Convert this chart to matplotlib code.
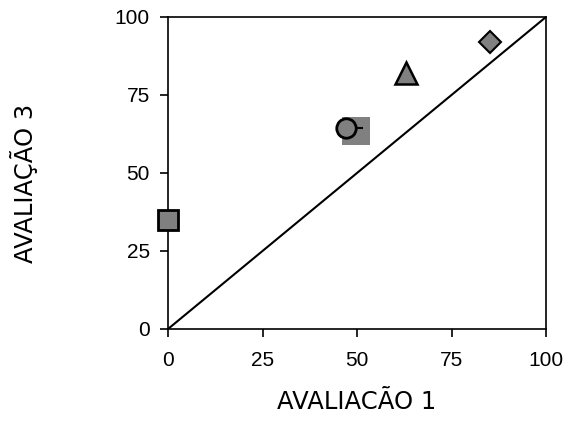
import matplotlib
matplotlib.use("Agg")
import matplotlib.pyplot as plt

# data
sq_x, sq_y = [0], [35]
gsq_x, gsq_y = [49.7], [63.6]
circ_x, circ_y = [47.1], [64.4]
circ_xerr_plus = [4.5]
tri_x, tri_y = [63], [82]
dia_x, dia_y = [85.2], [92]
diag = [0, 100]
ticks = [0, 25, 50, 75, 100]

fig = plt.figure(figsize=(5.68, 4.21), dpi=100)
ax = fig.add_axes([168/568, 92/421, 378/568, 312/421])
ax.plot(diag, diag, color='black', lw=1.5, zorder=2)

gray = '#808080'
ax.plot(sq_x, sq_y, 's', ms=15, mfc=gray, mec='black', mew=2, zorder=5, clip_on=False)
ax.plot(gsq_x, gsq_y, 's', ms=20, mfc=gray, mec=gray, mew=0, zorder=3)
ax.errorbar(circ_x, circ_y, xerr=[[0], circ_xerr_plus], fmt='none', ecolor='black', elinewidth=1.5, capsize=0, zorder=4)
ax.plot(circ_x, circ_y, 'o', ms=14, mfc=gray, mec='black', mew=2, zorder=5)
ax.plot(tri_x, tri_y, '^', ms=16, mfc=gray, mec='black', mew=1.8, zorder=5)
ax.plot(dia_x, dia_y, 'D', ms=11, mfc=gray, mec='black', mew=1.5, zorder=5)

ax.set_xlim(0, 100)
ax.set_ylim(0, 100)
ax.set_xticks(ticks)
ax.set_yticks(ticks)
for s in ax.spines.values():
    s.set_linewidth(1.2)
ax.tick_params(direction='out', length=6, width=1.2, labelsize=15, pad=7)
ax.tick_params(axis='x', pad=10)
for lbl in ax.get_xticklabels() + ax.get_yticklabels():
    lbl.set_family('Liberation Sans')
ax.set_xlabel('AVALIACÃO 1', fontsize=17.5, family='DejaVu Sans', va='center')
ax.set_ylabel('AVALIAÇÃO 3', fontsize=17.5, family='DejaVu Sans', va='center')
ax.xaxis.set_label_coords(0.5, -0.235)
ax.yaxis.set_label_coords(-0.381, 0.466)

fig.savefig('out.png', dpi=100)
